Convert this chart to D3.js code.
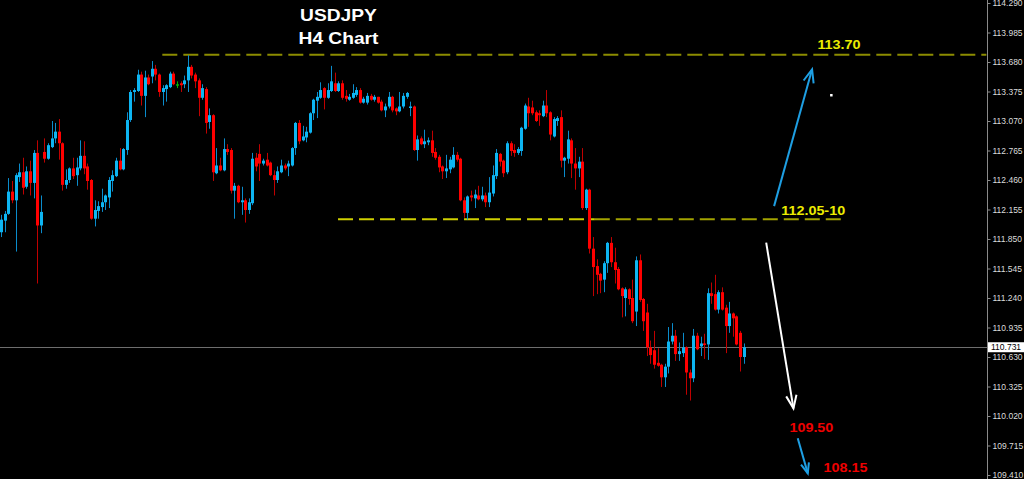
<!DOCTYPE html>
<html><head><meta charset="utf-8">
<script src="https://cdn.jsdelivr.net/npm/d3@7"></script>
<style>html,body{margin:0;padding:0;background:#000;overflow:hidden}</style>
</head><body>
<svg id="c" width="1024" height="479"></svg>
<script>
// ---- data (USDJPY H4, 208 bars) ----
const opens=[111.92,112.04,112.11,112.34,112.25,112.49,112.54,112.39,112.55,112.43,
112.74,111.99,112.75,112.68,112.80,112.89,112.96,112.84,112.41,112.46,
112.58,112.51,112.58,112.71,112.60,112.46,112.06,112.14,112.18,112.23,
112.28,112.45,112.50,112.66,112.57,112.77,113.08,113.37,113.38,113.55,
113.33,113.52,113.53,113.61,113.55,113.37,113.40,113.42,113.56,113.45,
113.46,113.45,113.49,113.63,113.55,113.49,113.31,113.40,113.06,113.13,
112.53,112.61,112.56,112.78,112.77,112.35,112.40,112.23,112.25,112.15,
112.22,112.69,112.73,112.63,112.67,112.64,112.51,112.46,112.54,112.61,
112.60,112.61,112.79,113.05,112.87,112.90,112.95,113.15,113.28,113.31,
113.41,113.31,113.38,113.46,113.38,113.46,113.33,113.29,113.31,113.34,
113.39,113.26,113.26,113.33,113.29,113.32,113.27,113.18,113.22,113.32,
113.20,113.17,113.22,113.32,113.21,113.22,112.77,112.89,112.83,112.85,
112.87,112.75,112.70,112.60,112.55,112.57,112.59,112.72,112.68,112.25,
112.12,112.30,112.27,112.30,112.26,112.30,112.23,112.32,112.50,112.73,
112.66,112.54,112.84,112.77,112.74,112.76,112.99,113.22,113.21,113.16,
113.15,113.12,113.23,113.16,112.91,113.07,113.11,112.66,112.68,112.87,
112.63,112.58,112.65,112.17,112.36,111.75,111.57,111.49,111.43,111.60,
111.81,111.61,111.54,111.34,111.24,111.33,111.24,111.10,111.63,111.23,
111.09,110.73,110.70,110.57,110.55,110.42,110.53,110.79,110.85,110.66,
110.67,110.73,110.47,110.41,110.85,110.74,110.77,110.76,111.29,111.28,
111.12,111.30,111.14,110.95,111.08,111.05,110.88,110.63];
const highs=[112.10,112.14,112.48,112.45,112.53,112.63,112.69,112.60,112.66,112.77,
112.87,112.30,112.89,112.84,113.07,113.05,113.09,112.85,112.57,112.59,
112.69,112.69,112.87,112.86,112.63,112.47,112.25,112.24,112.37,112.31,
112.49,112.56,112.69,112.79,112.79,113.16,113.39,113.41,113.60,113.58,
113.59,113.55,113.69,113.65,113.56,113.44,113.45,113.58,113.58,113.48,
113.48,113.54,113.75,113.65,113.57,113.51,113.45,113.42,113.20,113.14,
112.79,112.69,112.89,112.83,112.79,112.43,112.41,112.39,112.27,112.27,
112.74,112.74,112.83,112.68,112.74,112.65,112.56,112.60,112.67,112.63,
112.66,112.80,113.06,113.08,113.02,113.01,113.16,113.30,113.37,113.47,
113.42,113.46,113.64,113.57,113.48,113.49,113.39,113.35,113.45,113.42,
113.41,113.32,113.36,113.35,113.34,113.32,113.29,113.25,113.37,113.33,
113.21,113.37,113.36,113.37,113.27,113.23,112.92,112.91,112.98,112.90,
112.97,112.79,112.72,112.61,112.72,112.70,112.80,112.75,112.69,112.28,
112.30,112.35,112.36,112.40,112.39,112.33,112.49,112.61,112.78,112.74,
112.67,112.86,112.86,112.83,112.80,113.01,113.25,113.31,113.28,113.18,
113.18,113.28,113.39,113.17,113.11,113.12,113.18,112.70,112.97,112.89,
112.79,112.70,112.79,112.37,112.37,111.87,111.64,111.50,111.62,111.82,
111.87,111.76,111.56,111.35,111.35,111.34,111.43,111.67,111.69,111.24,
111.18,110.80,110.90,110.72,110.56,110.56,110.94,110.98,110.91,110.78,
110.88,110.74,110.50,110.92,110.88,110.84,110.87,111.34,111.40,111.48,
111.32,111.35,111.17,111.20,111.09,111.06,110.90,110.77];
const lows=[111.87,111.92,112.10,112.22,111.72,112.44,112.31,112.37,112.30,112.27,
111.39,111.91,112.64,112.67,112.79,112.84,112.67,112.35,112.37,112.43,
112.47,112.40,112.56,112.52,112.36,112.05,111.98,112.06,112.13,112.15,
112.17,112.34,112.49,112.56,112.56,112.72,113.06,113.27,113.37,113.23,
113.11,113.44,113.46,113.49,113.32,113.23,113.27,113.41,113.44,113.41,
113.37,113.41,113.37,113.51,113.41,113.12,113.29,112.94,112.99,112.45,
112.52,112.55,112.55,112.72,112.32,112.06,112.22,112.10,112.02,112.11,
112.20,112.55,112.45,112.61,112.60,112.50,112.30,112.43,112.53,112.56,
112.50,112.60,112.72,112.83,112.86,112.85,112.94,113.08,113.10,113.30,
113.19,113.30,113.37,113.37,113.37,113.29,113.27,113.28,113.30,113.32,
113.25,113.25,113.24,113.28,113.27,113.25,113.17,113.11,113.20,113.16,
113.13,113.16,113.20,113.30,113.12,112.76,112.66,112.82,112.79,112.82,
112.70,112.67,112.54,112.47,112.48,112.53,112.58,112.65,112.24,112.07,
112.05,112.24,112.17,112.25,112.24,112.18,112.18,112.29,112.47,112.60,
112.49,112.52,112.71,112.70,112.72,112.71,112.98,113.01,113.13,113.06,
113.02,113.11,113.11,112.87,112.90,113.02,112.59,112.49,112.63,112.48,
112.36,112.49,112.15,112.15,111.70,111.26,111.28,111.29,111.30,111.50,
111.56,111.39,111.32,111.04,111.05,111.17,110.98,110.95,111.20,110.90,
110.64,110.56,110.51,110.53,110.32,110.32,110.46,110.76,110.59,110.59,
110.63,110.24,110.18,110.37,110.70,110.64,110.61,110.60,111.18,111.11,
111.08,111.11,110.67,110.88,110.84,110.75,110.48,110.56];
const closes=[112.05,112.11,112.34,112.25,112.51,112.54,112.38,112.55,112.43,112.74,
111.99,112.13,112.68,112.82,112.89,112.96,112.84,112.41,112.46,112.58,
112.50,112.59,112.71,112.58,112.45,112.06,112.15,112.19,112.23,112.30,
112.46,112.51,112.66,112.57,112.78,113.08,113.37,113.39,113.55,113.33,
113.52,113.45,113.61,113.55,113.37,113.41,113.44,113.56,113.45,113.45,
113.44,113.49,113.63,113.54,113.48,113.31,113.41,113.05,113.13,112.54,
112.61,112.56,112.78,112.75,112.35,112.40,112.23,112.25,112.15,112.23,
112.68,112.60,112.63,112.66,112.61,112.51,112.46,112.55,112.61,112.58,
112.63,112.79,113.05,112.86,112.91,112.96,113.15,113.29,113.32,113.39,
113.31,113.39,113.48,113.38,113.46,113.31,113.30,113.32,113.36,113.39,
113.26,113.30,113.33,113.29,113.32,113.26,113.18,113.22,113.32,113.18,
113.17,113.22,113.33,113.36,113.22,112.77,112.88,112.83,112.86,112.87,
112.74,112.69,112.59,112.55,112.58,112.67,112.72,112.67,112.25,112.12,
112.29,112.28,112.31,112.26,112.30,112.23,112.33,112.51,112.74,112.65,
112.53,112.84,112.76,112.74,112.78,113.00,113.23,113.15,113.15,113.07,
113.13,113.23,113.15,112.93,113.09,113.10,112.66,112.69,112.88,112.63,
112.58,112.65,112.17,112.36,111.75,111.56,111.48,111.42,111.60,111.81,
111.61,111.53,111.33,111.26,111.33,111.23,111.00,111.63,111.22,111.00,
110.73,110.65,110.55,110.54,110.42,110.53,110.79,110.85,110.66,110.69,
110.73,110.47,110.41,110.85,110.71,110.77,110.76,111.29,111.26,111.12,
111.30,111.12,110.95,111.08,111.03,110.76,110.63,110.731];

const tickValues=[114.290,113.985,113.680,113.375,113.070,112.765,112.460,112.155,111.850,111.545,111.240,110.935,110.630,110.325,110.020,109.715,109.410];
const currentPrice=110.731;

// horizontal levels: [price, fromBar, toBar]
const levelPrices=[113.755,112.054,112.054];
const levelFrom=[44.9,93.9,165.5];
const levelTo=[274.7,165.5,235.4];

// annotation labels: text, bar position, price
const labelTexts=["113.70","112.05-10","109.50","108.15"];
const labelBars=[233.6,226.4,225.9,235.4];
const labelPrices=[113.811,112.098,109.857,109.444];

// arrows: [startBar,startPrice,endBar,endPrice]
const arrowStartBars=[215.5,213.3,222.1];
const arrowStartPrices=[112.19,111.812,109.789];
const arrowEndBars=[226.1,220.9,224.9];
const arrowEndPrices=[113.604,110.099,109.427];

const titleLines=["USDJPY","H4 Chart"];

// ---- drawing ----
const W=1024,H=479, axisX=987;
const svg=d3.select("#c");
svg.append("rect").attr("width",W).attr("height",H).attr("fill","#000");

const n=opens.length;
const x=d3.scaleLinear().domain([0,n-1]).range([1.3,743.6]);
const y=d3.scaleLinear().domain([109.410,114.290]).range([475,3]);

const BLUE="#0db5f2", RED="#ff0000";

// current price line
svg.append("line").attr("x1",0).attr("x2",axisX).attr("y1",Math.round(y(currentPrice))+0.5).attr("y2",Math.round(y(currentPrice))+0.5)
  .attr("stroke","#6e6e6e").attr("stroke-width",1);

// levels
const levelColors=["#8c8c00","#cfcf00","#a3a300"];
levelPrices.forEach((p,i)=>{
  svg.append("line").attr("x1",x(levelFrom[i])).attr("x2",Math.min(axisX,x(levelTo[i])))
    .attr("y1",y(p)).attr("y2",y(p)).attr("stroke",levelColors[i]).attr("stroke-width",2)
    .attr("stroke-dasharray","15,6");
});

// candles
const idx=d3.range(n);
const g=svg.append("g");
g.selectAll("line.w").data(idx).join("line").attr("class","w")
  .attr("x1",i=>Math.round(x(i))+0.5).attr("x2",i=>Math.round(x(i))+0.5)
  .attr("y1",i=>y(highs[i])).attr("y2",i=>y(lows[i]))
  .attr("stroke",i=>closes[i]>opens[i]?"#0a8ccc":(closes[i]<opens[i]?"#c00000":"#00b000"))
  .attr("stroke-width",1);
g.selectAll("rect.b").data(idx).join("rect").attr("class","b")
  .attr("x",i=>Math.round(x(i))-1).attr("width",3)
  .attr("y",i=>y(Math.max(opens[i],closes[i])))
  .attr("height",i=>Math.max(1.5,Math.abs(y(opens[i])-y(closes[i]))))
  .attr("fill",i=>closes[i]>opens[i]?BLUE:(closes[i]<opens[i]?RED:"#00b000"));

// axis
svg.append("line").attr("x1",axisX+0.5).attr("x2",axisX+0.5).attr("y1",0).attr("y2",H).attr("stroke","#8a8a8a");
const ax=svg.append("g").attr("transform",`translate(${axisX+0.5},0)`)
  .call(d3.axisRight(y).tickValues(tickValues).tickFormat(d3.format(".3f")).tickSize(3).tickPadding(2));
ax.select(".domain").remove();
ax.selectAll(".tick line").attr("stroke","#8a8a8a");
ax.selectAll(".tick text").attr("fill","#dcdcdc").style("font-family","'Liberation Sans',Arial,sans-serif").style("font-size","8.5px");

// current price box
const cpY=y(currentPrice);
svg.append("rect").attr("x",axisX+1).attr("y",cpY-5).attr("width",W-axisX-1).attr("height",10).attr("fill","#fff");
svg.append("text").attr("x",axisX+4).attr("y",cpY).attr("dy","0.35em").text(d3.format(".3f")(currentPrice))
  .attr("fill","#000").style("font-family","'Liberation Sans',Arial,sans-serif").style("font-size","8.5px");

// arrows
const arrowColors=["#1e9fe3","#ffffff","#1e9fe3"];
arrowStartBars.forEach((sb,i)=>{
  const x1=x(sb),y1=y(arrowStartPrices[i]),x2=x(arrowEndBars[i]),y2=y(arrowEndPrices[i]);
  const a=Math.atan2(y2-y1,x2-x1), L=i===2?11:14, sp=0.38;
  const p=[[x2-L*Math.cos(a-sp),y2-L*Math.sin(a-sp)],[x2,y2],[x2-L*Math.cos(a+sp),y2-L*Math.sin(a+sp)]];
  svg.append("line").attr("x1",x1).attr("y1",y1).attr("x2",x2).attr("y2",y2).attr("stroke",arrowColors[i]).attr("stroke-width",2);
  svg.append("path").attr("d",d3.line()(p)).attr("fill","none").attr("stroke",arrowColors[i]).attr("stroke-width",2);
});
// small white dot marker
svg.append("rect").attr("x",x(231.4)-1).attr("y",y(113.339)-1).attr("width",2.5).attr("height",2.5).attr("fill","#fff");

// labels
const labelColors=["#ecec00","#ecec00","#ee0000","#ee0000"];
const labelSizes=[12.5,12.5,12.5,12.5];
labelTexts.forEach((t,i)=>{
  svg.append("text").attr("transform",`translate(${x(labelBars[i])},${y(labelPrices[i])}) scale(1.15,1)`)
    .attr("text-anchor","middle").text(t).attr("fill",labelColors[i])
    .style("font-family","'Liberation Sans',Arial,sans-serif").style("font-weight","bold").style("font-size",labelSizes[i]+"px");
});

// title
titleLines.forEach((t,i)=>{
  svg.append("text").attr("transform",`translate(338.5,${21+i*22.5}) scale(1.2,1)`)
    .attr("text-anchor","middle").text(t).attr("fill","#fff")
    .style("font-family","'Liberation Sans',Arial,sans-serif").style("font-weight","bold").style("font-size","16px");
});
</script>
</body></html>
